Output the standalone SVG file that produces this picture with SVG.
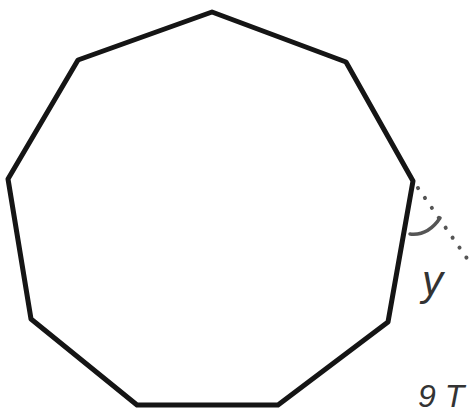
<svg xmlns="http://www.w3.org/2000/svg" width="474" height="413" viewBox="0 0 474 413">
<style>
.shape{fill:none;stroke:#151515;stroke-width:5;stroke-linejoin:round}
.dot{fill:none;stroke:#555;stroke-width:4;stroke-linecap:round;stroke-dasharray:0.1 12}
.arc{fill:none;stroke:#555;stroke-width:3.5;stroke-linecap:round}
.lbl{font-family:"Liberation Sans",sans-serif;fill:#333}
</style>
<rect width="474" height="413" fill="#fff"/>
<g id="nonagon">
<polygon class="shape" points="212,12 346,62 413,181 388,322 278,405 137,405 31,319 8,179 78,60"/>
</g>
<g id="connectors">
<line class="dot" x1="418" y1="188" x2="473" y2="267"/>
<path class="arc" d="M 410,234 Q 428,236 440,218"/>
</g>
<g id="labels">
<text class="lbl" x="422" y="295" font-size="42" font-style="italic">y</text>
<text class="lbl" x="418" y="407" font-size="32" font-style="italic">9 T</text>
</g>
</svg>
